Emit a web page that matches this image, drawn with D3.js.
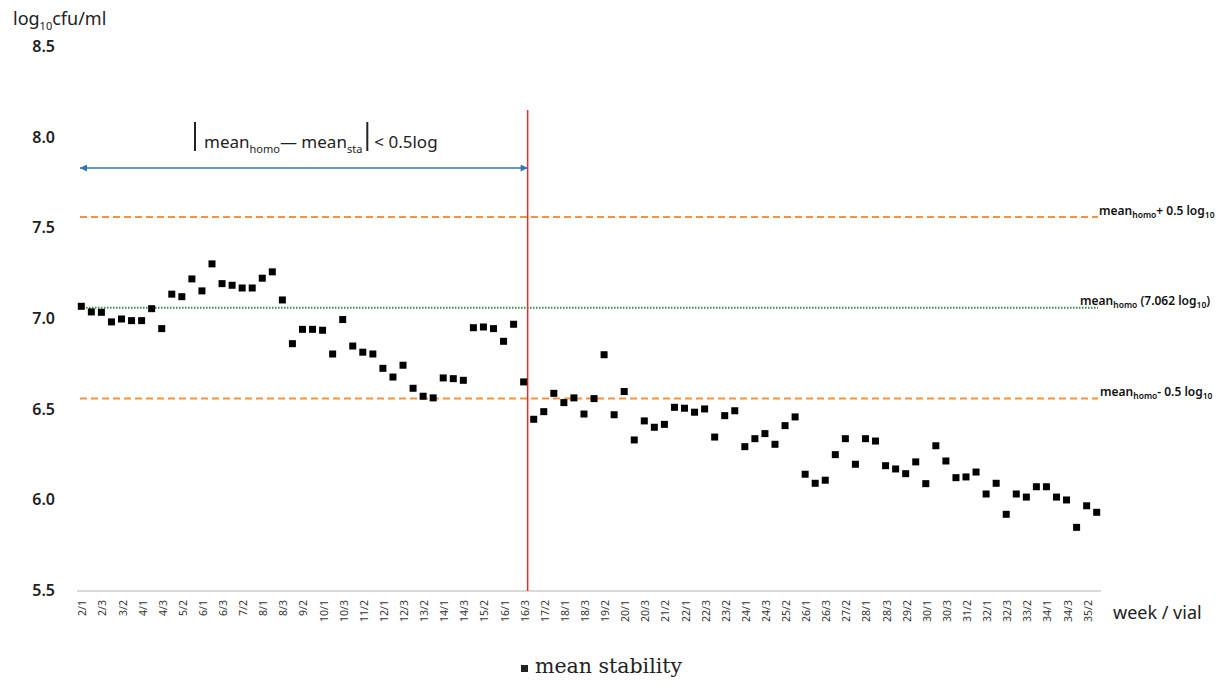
<!DOCTYPE html>
<html>
<head>
<meta charset="utf-8">
<script src="https://cdn.jsdelivr.net/npm/d3@7"></script>
<style>
  body { margin: 0; background: #fff; }
  svg { display: block; }
</style>
</head>
<body>
<svg id="chart" width="1228" height="683"></svg>
<script>
// week / vial categories
const categories = [
    "2/1","2/2","2/3","3/1","3/2","3/3","4/1","4/2","4/3","5/1","5/2","5/3",
    "6/1","6/2","6/3","7/1","7/2","7/3","8/1","8/2","8/3","9/1","9/2","9/3",
    "10/1","10/2","10/3","11/1","11/2","11/3","12/1","12/2","12/3","13/1","13/2","13/3",
    "14/1","14/2","14/3","15/1","15/2","15/3","16/1","16/2","16/3","17/1","17/2","17/3",
    "18/1","18/2","18/3","19/1","19/2","19/3","20/1","20/2","20/3","21/1","21/2","21/3",
    "22/1","22/2","22/3","23/1","23/2","23/3","24/1","24/2","24/3","25/1","25/2","25/3",
    "26/1","26/2","26/3","27/1","27/2","27/3","28/1","28/2","28/3","29/1","29/2","29/3",
    "30/1","30/2","30/3","31/1","31/2","31/3","32/1","32/2","32/3","33/1","33/2","33/3",
    "34/1","34/2","34/3","35/1","35/2","35/3"
];

// mean stability, log10 cfu/ml
const meanStability = [
    7.070, 7.039, 7.037, 6.984, 7.000, 6.991, 6.991, 7.057, 6.947, 7.137, 7.123, 7.221,
    7.155, 7.304, 7.195, 7.186, 7.171, 7.171, 7.225, 7.260, 7.105, 6.864, 6.943, 6.943,
    6.938, 6.807, 6.997, 6.851, 6.817, 6.807, 6.728, 6.680, 6.745, 6.618, 6.574, 6.565,
    6.675, 6.671, 6.662, 6.952, 6.956, 6.947, 6.877, 6.971, 6.653, 6.447, 6.489, 6.590,
    6.539, 6.565, 6.476, 6.561, 6.803, 6.472, 6.600, 6.333, 6.438, 6.403, 6.419, 6.513,
    6.508, 6.486, 6.504, 6.349, 6.467, 6.494, 6.296, 6.340, 6.368, 6.309, 6.412, 6.460,
    6.144, 6.094, 6.111, 6.252, 6.340, 6.199, 6.340, 6.327, 6.191, 6.173, 6.147, 6.212,
    6.092, 6.301, 6.217, 6.125, 6.129, 6.156, 6.035, 6.094, 5.923, 6.035, 6.018, 6.075,
    6.075, 6.018, 6.002, 5.851, 5.970, 5.934
];

const yTicks = [5.5, 6.0, 6.5, 7.0, 7.5, 8.0, 8.5];
const meanHomo = 7.062;
const limitLines = [meanHomo + 0.5, meanHomo - 0.5];
const cutoffCategory = "16/3";

const svg = d3.select("#chart");
const sans = "'Noto Sans', 'Open Sans', sans-serif";

const x = d3.scalePoint().domain(categories).range([81.3, 1096.7]);
const y = d3.scaleLinear().domain([5.5, 8.5]).range([591, 47]);

// baseline axis
svg.append("line")
    .attr("x1", 77).attr("x2", 1101)
    .attr("y1", y(5.5)).attr("y2", y(5.5))
    .attr("stroke", "#d9d9d9")
    .attr("stroke-width", 2);

// y tick labels
svg.append("g").selectAll("text")
    .data(yTicks)
    .enter().append("text")
    .attr("x", 55)
    .attr("y", d => y(d) + 5)
    .attr("text-anchor", "end")
    .attr("font-family", sans)
    .attr("font-size", 16)
    .attr("font-weight", 600)
    .attr("fill", "#222")
    .text(d => d3.format(".1f")(d));

// x tick labels, every second category
svg.append("g").selectAll("text")
    .data(categories.filter((d, i) => i % 2 === 0))
    .enter().append("text")
    .attr("transform", d => `translate(${x(d) + 5},600) rotate(-90)`)
    .attr("text-anchor", "end")
    .attr("font-family", sans)
    .attr("font-size", 10.5)
    .attr("fill", "#333")
    .text(d => d);

// y axis title
const yTitle = svg.append("text")
    .attr("x", 13).attr("y", 25)
    .attr("font-family", sans)
    .attr("font-size", 18)
    .attr("fill", "#222");
yTitle.append("tspan").text("log");
yTitle.append("tspan").attr("font-size", 11).attr("dy", 5).text("10");
yTitle.append("tspan").attr("dy", -5).text("cfu/ml");

// x axis title
svg.append("text")
    .attr("x", 1113).attr("y", 619)
    .attr("font-family", sans)
    .attr("font-size", 18)
    .attr("fill", "#222")
    .text("week / vial");

// limit lines (mean_homo +/- 0.5 log)
svg.append("g").selectAll("line")
    .data(limitLines)
    .enter().append("line")
    .attr("x1", 80).attr("x2", 1098)
    .attr("y1", d => y(d)).attr("y2", d => y(d))
    .attr("stroke", "#f5923e")
    .attr("stroke-width", 2)
    .attr("stroke-dasharray", "7,4");

// mean_homo line
svg.append("line")
    .attr("x1", 80).attr("x2", 1098)
    .attr("y1", y(meanHomo)).attr("y2", y(meanHomo))
    .attr("stroke", "#3a8a4a")
    .attr("stroke-width", 2)
    .attr("stroke-dasharray", "1.5,1.5");

// right side labels
function meanLabel(xPos, yPos, parts) {
    const t = svg.append("text")
        .attr("x", xPos).attr("y", yPos)
        .attr("font-family", sans)
        .attr("font-size", 12)
        .attr("font-weight", 600)
        .attr("fill", "#111");
    parts.forEach(p => {
        t.append("tspan")
            .attr("font-size", p.sub ? 8.5 : 12)
            .attr("dy", p.dy || 0)
            .text(p.t);
    });
}
meanLabel(1099, y(limitLines[0]) - 2, [
    {t: "mean"}, {t: "homo", sub: true, dy: 3}, {t: "+ 0.5 log", dy: -3}, {t: "10", sub: true, dy: 3}
]);
meanLabel(1080, y(meanHomo) - 3, [
    {t: "mean"}, {t: "homo", sub: true, dy: 3}, {t: " (7.062 log", dy: -3}, {t: "10", sub: true, dy: 3}, {t: ")", dy: -3}
]);
meanLabel(1100, y(limitLines[1]) - 2, [
    {t: "mean"}, {t: "homo", sub: true, dy: 3}, {t: "- 0.5 log", dy: -3}, {t: "10", sub: true, dy: 3}
]);

// red cut-off line
const cutX = x(cutoffCategory) + 4;
svg.append("line")
    .attr("x1", cutX).attr("x2", cutX)
    .attr("y1", 110).attr("y2", y(5.5))
    .attr("stroke", "#f0262b")
    .attr("stroke-width", 1.5);

// double arrow
const defs = svg.append("defs");
["arrowEnd", "arrowStart"].forEach((id, i) => {
    defs.append("marker")
        .attr("id", id)
        .attr("viewBox", "0 -5 10 10")
        .attr("refX", i === 0 ? 10 : 0)
        .attr("refY", 0)
        .attr("markerWidth", 8)
        .attr("markerHeight", 7)
        .attr("markerUnits", "userSpaceOnUse")
        .attr("orient", "auto")
        .append("path")
        .attr("d", i === 0 ? "M0,-5L10,0L0,5Z" : "M10,-5L0,0L10,5Z")
        .attr("fill", "#2e75b6");
});
svg.append("line")
    .attr("x1", 80).attr("x2", cutX)
    .attr("y1", 168).attr("y2", 168)
    .attr("stroke", "#2e75b6")
    .attr("stroke-width", 1.5)
    .attr("marker-start", "url(#arrowStart)")
    .attr("marker-end", "url(#arrowEnd)");

// |mean_homo - mean_sta| < 0.5log
const formula = svg.append("text")
    .attr("x", 204).attr("y", 148)
    .attr("font-family", sans)
    .attr("font-size", 17)
    .attr("fill", "#222");
formula.append("tspan").text("mean");
formula.append("tspan").attr("font-size", 11).attr("dy", 5).text("homo");
formula.append("tspan").attr("dy", -5).text("\u2014 mean");
formula.append("tspan").attr("font-size", 11).attr("dy", 5).text("sta");
const fEnd = 204 + formula.node().getComputedTextLength();
svg.append("line")
    .attr("x1", 195).attr("x2", 195).attr("y1", 122).attr("y2", 151)
    .attr("stroke", "#222").attr("stroke-width", 2);
svg.append("line")
    .attr("x1", fEnd + 5).attr("x2", fEnd + 5).attr("y1", 122).attr("y2", 151)
    .attr("stroke", "#222").attr("stroke-width", 2);
svg.append("text")
    .attr("x", fEnd + 12).attr("y", 148)
    .attr("font-family", sans)
    .attr("font-size", 17)
    .attr("fill", "#222")
    .text("< 0.5log");

// data points
svg.append("g").selectAll("rect")
    .data(meanStability)
    .enter().append("rect")
    .attr("x", (d, i) => x(categories[i]) - 3.5)
    .attr("y", d => y(d) - 3.5)
    .attr("width", 7)
    .attr("height", 7)
    .attr("fill", "#000");

// legend
svg.append("rect")
    .attr("x", 521).attr("y", 665)
    .attr("width", 7).attr("height", 7)
    .attr("fill", "#222");
svg.append("text")
    .attr("x", 535).attr("y", 673)
    .attr("font-family", "'DejaVu Serif', 'Liberation Serif', serif")
    .attr("font-size", 20.5)
    .attr("fill", "#222")
    .text("mean stability");
</script>
</body>
</html>
